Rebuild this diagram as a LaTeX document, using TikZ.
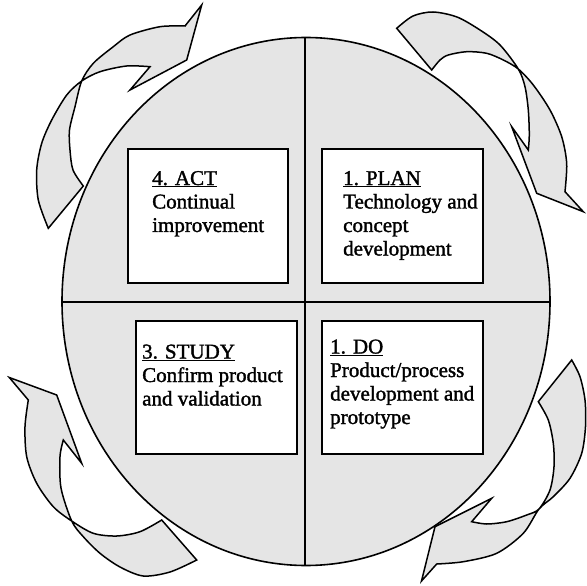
\documentclass[tikz,border=0pt]{standalone}
\usepackage{fontspec}
\setmainfont{Liberation Serif}[FakeBold=1.5]
\definecolor{fg}{RGB}{229,229,229}
\tikzset{
  shapeline/.style={draw=black, line width=1.6pt, line join=round},
  ribbon/.style={draw=black, fill=fg, line width=1.5pt, line join=miter},
  stagebox/.style={draw=black, fill=white, line width=1.6pt, inner sep=0pt,
    minimum width=161pt, minimum height=134pt},
  stagetext/.style={inner sep=0pt, anchor=base west,
    font=\fontsize{21}{23.5}\selectfont},
}
\begin{document}
\begin{tikzpicture}[x=1pt, y=-1pt]
\useasboundingbox (0,0) rectangle (587,586);

% circle body with dividing lines
\coordinate (c) at (306,301.5);
\begin{scope}
  \clip (c) ellipse [x radius=244, y radius=264];
  \fill[fg] (0,0) rectangle (587,586);
  \coordinate (vtop) at (305,20);
  \coordinate (vbot) at (305,580);
  \coordinate (hleft) at (40,302);
  \coordinate (hright) at (570,302);
  \draw[shapeline] (vtop) -- (vbot);
  \draw[shapeline] (hleft) -- (hright);
\end{scope}
\draw[shapeline] (c) ellipse [x radius=244, y radius=264];

% top-left arrow
\filldraw[ribbon] (201.7,5) -- (185,26)
  -- plot[smooth] coordinates {(185,26) (160,26.7) (130,35) (113.3,46.7) (93.3,63.3) (81.7,81) (75,106.7) (69.5,130) (70,150) (73,170) (83.3,186)}
  -- (48.3,228.3)
  -- plot[smooth] coordinates {(48.3,228.3) (38.3,200) (36.7,170) (41.7,143.3) (51.7,120) (66.7,95) (81.7,81) (100,71.7) (126.7,66) (150,66.7)}
  -- (130,90) -- (186.7,60) -- cycle;

% top-right arrow
\filldraw[ribbon] (396.7,28.3) -- (431.7,70)
  -- plot[smooth] coordinates {(431.7,70) (440,60) (448.3,55) (466.7,51.7) (486.7,53.3) (503.3,60) (518.3,69) (533.3,85) (550,110) (561.7,136.7) (566.7,163.3) (565,191.7)}
  -- (583.3,211.7) -- (536.7,193.3) -- (511.7,126.7) -- (528.3,150)
  -- plot[smooth] coordinates {(528.3,150) (529.3,135) (528.3,110) (525,86.7) (518.3,69) (500,45) (480,30) (457,17) (433,12) (413,16) (396.7,28.3)}
  -- cycle;

% bottom-right arrow
\filldraw[ribbon] (571.7,360)
  -- plot[smooth] coordinates {(571.7,360) (580,376.7) (585,400) (585.5,426.7) (581.7,453.3) (570,478.3) (553.3,496.7) (539,509) (523.3,533.3) (496.7,553.3) (463.3,561.7) (436.7,564)}
  -- (421.5,581) -- (435,526.7) -- (491.7,498.3) -- (471.7,521.7)
  -- plot[smooth] coordinates {(471.7,521.7) (486.7,524) (506.7,521.7) (526.7,515) (539,509) (550,490) (554,466.7) (553.3,443.3) (548.3,420) (538.3,401.7)}
  -- cycle;

% bottom-left arrow
\filldraw[ribbon] (9.3,377.5) -- (56.7,395) -- (81.7,463.3) -- (63.3,440)
  -- plot[smooth] coordinates {(63.3,440) (60,456.7) (61,488) (71.7,521) (83.3,536.7) (100,553.3) (120,567) (143.3,576) (170,572) (196.7,560)}
  -- (161.7,520)
  -- plot[smooth] coordinates {(161.7,520) (140,531.7) (116.7,536) (93.3,533.3) (71.7,521) (53.3,506.7) (36.7,483.3) (26.7,456.7) (25,426.7) (28.3,400)}
  -- cycle;

% stage boxes
\node[stagebox, minimum width=160pt] (act) at (208,216) {};
\node[stagebox] (plan) at (402.5,216) {};
\node[stagebox, minimum height=133pt] (study) at (216.5,387.5) {};
\node[stagebox, minimum height=133pt] (do) at (402.5,387.5) {};

\node[stagetext] (acttxt) at (152,185) {\begin{tabular}[t]{@{}l@{}}\underline{4. ACT}\\Continual\\improvement\end{tabular}};
\node[stagetext] (plantxt) at (343,185) {\begin{tabular}[t]{@{}l@{}}\underline{1. PLAN}\\Technology and\\concept\\development\end{tabular}};
\node[stagetext] (studytxt) at (142,358.5) {\begin{tabular}[t]{@{}l@{}}\underline{3. STUDY}\\Confirm product\\and validation\end{tabular}};
\node[stagetext] (dotxt) at (330,353.5) {\begin{tabular}[t]{@{}l@{}}\underline{1. DO}\\Product/process\\development and\\prototype\end{tabular}};
\end{tikzpicture}
\end{document}
